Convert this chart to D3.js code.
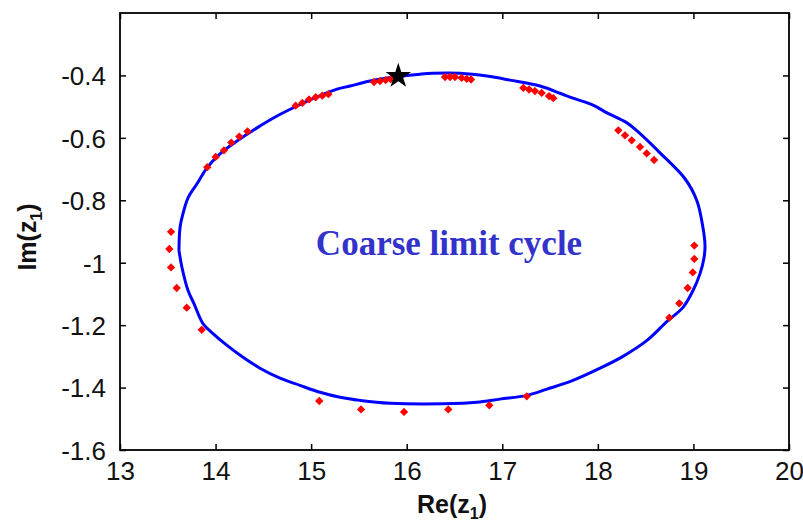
<!DOCTYPE html>
<html><head><meta charset="utf-8">
<script src="https://cdn.jsdelivr.net/npm/d3@7"></script>
<style>body{margin:0;background:#fff}svg{display:block}</style>
</head><body>
<svg id="c" width="803" height="523"></svg>
<script>
// Limit cycle trajectory (Re, Im)
const cycleRe = [13.617,13.628,13.659,13.712,13.806,13.910,14.046,14.224,14.433,14.643,14.852,15.061,15.271,15.407,15.616,15.877,16.139,16.275,16.558,16.840,17.081,17.395,17.604,17.740,17.949,18.096,18.305,18.410,18.650,18.912,19.037,19.100,19.121,19.111,19.069,18.996,18.891,18.724,18.514,18.263,18.023,17.740,17.468,17.259,16.976,16.735,16.589,15.825,15.511,15.302,15.093,14.883,14.674,14.465,14.287,14.120,13.973,13.868,13.774,13.712,13.649,13.617];
const cycleIm = [-0.961,-0.888,-0.843,-0.792,-0.747,-0.696,-0.651,-0.610,-0.568,-0.530,-0.498,-0.469,-0.444,-0.434,-0.418,-0.405,-0.396,-0.393,-0.393,-0.402,-0.415,-0.434,-0.457,-0.473,-0.495,-0.520,-0.552,-0.578,-0.648,-0.731,-0.802,-0.888,-0.945,-0.984,-1.035,-1.089,-1.143,-1.188,-1.249,-1.300,-1.338,-1.377,-1.405,-1.425,-1.437,-1.447,-1.450,-1.450,-1.441,-1.431,-1.415,-1.393,-1.370,-1.338,-1.303,-1.265,-1.227,-1.195,-1.131,-1.089,-1.016,-0.961];
// Red sample points
const ptsRe = [13.534,13.516,13.534,13.593,13.698,13.855,
  13.913,14.001,14.088,14.164,14.248,14.334,
  14.838,14.908,14.978,15.048,15.117,15.180,
  15.658,15.720,15.780,15.833,
  16.401,16.453,16.505,16.575,16.628,16.673,
  17.220,17.280,17.342,17.412,17.489,17.534,
  18.214,18.284,18.354,18.441,18.511,18.588,
  19.009,19.009,18.993,18.940,18.852,18.748,
  15.085,15.522,15.972,16.435,16.864,17.256];
const ptsIm = [-0.901,-0.956,-1.015,-1.081,-1.144,-1.215,
  -0.694,-0.661,-0.640,-0.615,-0.596,-0.579,
  -0.497,-0.488,-0.477,-0.470,-0.465,-0.460,
  -0.421,-0.418,-0.415,-0.412,
  -0.405,-0.405,-0.405,-0.408,-0.411,-0.413,
  -0.440,-0.445,-0.450,-0.456,-0.466,-0.473,
  -0.576,-0.592,-0.608,-0.629,-0.650,-0.671,
  -0.945,-0.988,-1.031,-1.081,-1.130,-1.176,
  -1.443,-1.470,-1.478,-1.470,-1.457,-1.428];
const starRe = [15.912];
const starIm = [-0.402];
const xTicks = [13,14,15,16,17,18,19,20];
const yTicks = [-1.6,-1.4,-1.2,-1,-0.8,-0.6,-0.4];
const xDomain = [13,20];
const yDomain = [-1.6,-0.2];
const annotation = "Coarse limit cycle";

const svg = d3.select("#c");
const L=120, R=789, T=13, B=450;
const x = d3.scaleLinear().domain(xDomain).range([L,R]);
const y = d3.scaleLinear().domain(yDomain).range([B,T]);

const fmtY = d => String(d);

// axes
const ax = svg.append("g").attr("font-family","Arial, 'Liberation Sans', sans-serif");
const tickStyle = g => { g.select(".domain").remove(); g.selectAll("line").attr("stroke","#000").attr("stroke-width",1.5); };
ax.append("g").attr("transform",`translate(0,${B})`)
  .call(d3.axisBottom(x).tickValues(xTicks).tickSize(-6).tickPadding(12).tickFormat(d3.format("d")))
  .call(tickStyle).call(g=>g.selectAll("text").attr("font-size",26).attr("fill","#111").attr("font-family","Arial, 'Liberation Sans', sans-serif"));
ax.append("g").attr("transform",`translate(0,${T})`)
  .call(d3.axisTop(x).tickValues(xTicks).tickSize(-6).tickFormat(""))
  .call(tickStyle);
ax.append("g").attr("transform",`translate(${L},0)`)
  .call(d3.axisLeft(y).tickValues(yTicks).tickSize(-6).tickPadding(14).tickFormat(fmtY))
  .call(tickStyle).call(g=>g.selectAll("text").attr("font-size",26).attr("fill","#111").attr("dy","0.36em").attr("font-family","Arial, 'Liberation Sans', sans-serif"));
ax.append("g").attr("transform",`translate(${R},0)`)
  .call(d3.axisRight(y).tickValues(yTicks).tickSize(-6).tickFormat(""))
  .call(tickStyle);

// frame
svg.append("rect").attr("x",L).attr("y",T).attr("width",R-L).attr("height",B-T)
  .attr("fill","none").attr("stroke","#000").attr("stroke-width",1.8);

// cycle
const cyc = cycleRe.map((v,i)=>[v,cycleIm[i]]);
svg.append("path").datum(cyc)
  .attr("d", d3.line().x(d=>x(d[0])).y(d=>y(d[1])).curve(d3.curveCatmullRom.alpha(0.5)))
  .attr("fill","none").attr("stroke","#0000ff").attr("stroke-width",3);

// red diamonds
const pts = ptsRe.map((v,i)=>[v,ptsIm[i]]);
svg.append("g").selectAll("path").data(pts).join("path")
  .attr("transform",d=>`translate(${x(d[0])},${y(d[1])})`)
  .attr("d", d3.symbol(d3.symbolDiamond2).size(44))
  .attr("fill","#ff0000");

// star
svg.append("g").selectAll("path").data(starRe.map((v,i)=>[v,starIm[i]])).join("path")
  .attr("transform",d=>`translate(${x(d[0])},${y(d[1])})`)
  .attr("d", d3.symbol(d3.symbolStar).size(200))
  .attr("fill","#000");

// annotation
svg.append("text").attr("x",449).attr("y",255).attr("text-anchor","middle")
  .attr("font-family","'Liberation Serif','Times New Roman',serif").attr("font-weight","bold")
  .attr("font-size",35).attr("fill","#3333cc").text(annotation);

// axis labels
const xl = svg.append("text").attr("x",452).attr("y",513).attr("text-anchor","middle")
  .attr("font-family","Arial, 'Liberation Sans', sans-serif").attr("font-weight","bold").attr("font-size",25).attr("fill","#111");
xl.append("tspan").text("Re(z");
xl.append("tspan").attr("font-size",16).attr("dy",6).text("1");
xl.append("tspan").attr("dy",-6).text(")");

const yl = svg.append("text").attr("transform","translate(36,237) rotate(-90)").attr("text-anchor","middle")
  .attr("font-family","Arial, 'Liberation Sans', sans-serif").attr("font-weight","bold").attr("font-size",25).attr("fill","#111");
yl.append("tspan").text("Im(z");
yl.append("tspan").attr("font-size",16).attr("dy",6).text("1");
yl.append("tspan").attr("dy",-6).text(")");
</script>
</body></html>
